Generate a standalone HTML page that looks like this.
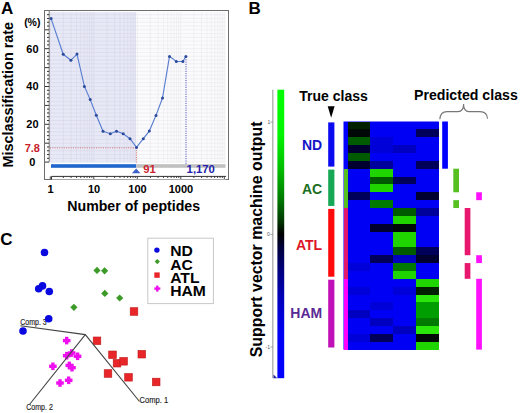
<!DOCTYPE html>
<html><head><meta charset="utf-8"><style>
html,body{margin:0;padding:0;background:#fff;}
svg{display:block;}
</style></head><body>
<svg width="520" height="413" viewBox="0 0 520 413">
<rect width="520" height="413" fill="#fff"/>
<text x="1" y="14" font-family="Liberation Sans, sans-serif" font-size="17" font-weight="bold">A</text>
<text transform="translate(12.6,94.7) rotate(-90)" text-anchor="middle" font-family="Liberation Sans, sans-serif" font-size="14.4" font-weight="bold">Misclassification rate</text>
<rect x="44.5" y="10.5" width="184" height="169" fill="#fff" stroke="#6e6e6e" stroke-width="1"/>
<rect x="50" y="12" width="86.19999999999999" height="149.8" fill="#e8e9f6"/>
<rect x="136.2" y="12" width="89.30000000000001" height="149.8" fill="#fbfbfd"/>
<path d="M50,162.10H136.2M50,158.32H136.2M50,154.54H136.2M50,150.76H136.2M50,146.98H136.2M50,143.20H136.2M50,139.42H136.2M50,135.64H136.2M50,131.86H136.2M50,128.08H136.2M50,124.30H136.2M50,120.52H136.2M50,116.74H136.2M50,112.96H136.2M50,109.18H136.2M50,105.40H136.2M50,101.62H136.2M50,97.84H136.2M50,94.06H136.2M50,90.28H136.2M50,86.50H136.2M50,82.72H136.2M50,78.94H136.2M50,75.16H136.2M50,71.38H136.2M50,67.60H136.2M50,63.82H136.2M50,60.04H136.2M50,56.26H136.2M50,52.48H136.2M50,48.70H136.2M50,44.92H136.2M50,41.14H136.2M50,37.36H136.2M50,33.58H136.2M50,29.80H136.2M50,26.02H136.2M50,22.24H136.2M50,18.46H136.2M50,14.68H136.2M50.30,12V161.8M63.39,12V161.8M71.05,12V161.8M76.49,12V161.8M80.71,12V161.8M84.15,12V161.8M87.06,12V161.8M89.58,12V161.8M91.81,12V161.8M93.80,12V161.8M106.89,12V161.8M114.55,12V161.8M119.99,12V161.8M124.21,12V161.8M127.65,12V161.8M130.56,12V161.8M133.08,12V161.8M135.31,12V161.8" stroke="#d8d9ea" stroke-width="0.7" fill="none"/>
<path d="M136.2,162.10H225.5M136.2,158.32H225.5M136.2,154.54H225.5M136.2,150.76H225.5M136.2,146.98H225.5M136.2,143.20H225.5M136.2,139.42H225.5M136.2,135.64H225.5M136.2,131.86H225.5M136.2,128.08H225.5M136.2,124.30H225.5M136.2,120.52H225.5M136.2,116.74H225.5M136.2,112.96H225.5M136.2,109.18H225.5M136.2,105.40H225.5M136.2,101.62H225.5M136.2,97.84H225.5M136.2,94.06H225.5M136.2,90.28H225.5M136.2,86.50H225.5M136.2,82.72H225.5M136.2,78.94H225.5M136.2,75.16H225.5M136.2,71.38H225.5M136.2,67.60H225.5M136.2,63.82H225.5M136.2,60.04H225.5M136.2,56.26H225.5M136.2,52.48H225.5M136.2,48.70H225.5M136.2,44.92H225.5M136.2,41.14H225.5M136.2,37.36H225.5M136.2,33.58H225.5M136.2,29.80H225.5M136.2,26.02H225.5M136.2,22.24H225.5M136.2,18.46H225.5M136.2,14.68H225.5M137.30,12V161.8M150.39,12V161.8M158.05,12V161.8M163.49,12V161.8M167.71,12V161.8M171.15,12V161.8M174.06,12V161.8M176.58,12V161.8M178.81,12V161.8M180.80,12V161.8M193.89,12V161.8M201.55,12V161.8M206.99,12V161.8M211.21,12V161.8M214.65,12V161.8M217.56,12V161.8M220.08,12V161.8M222.31,12V161.8M224.30,12V161.8" stroke="#ebebef" stroke-width="0.7" fill="none"/>
<rect x="45" y="11" width="4.2" height="150.8" fill="#fff"/>
<path d="M49.2,11V161.8" stroke="#555" stroke-width="0.8"/>
<path d="M45,162.10H49.2M47,158.32H49.2M47,154.54H49.2M47,150.76H49.2M47,146.98H49.2M45,143.20H49.2M47,139.42H49.2M47,135.64H49.2M47,131.86H49.2M47,128.08H49.2M45,124.30H49.2M47,120.52H49.2M47,116.74H49.2M47,112.96H49.2M47,109.18H49.2M45,105.40H49.2M47,101.62H49.2M47,97.84H49.2M47,94.06H49.2M47,90.28H49.2M45,86.50H49.2M47,82.72H49.2M47,78.94H49.2M47,75.16H49.2M47,71.38H49.2M45,67.60H49.2M47,63.82H49.2M47,60.04H49.2M47,56.26H49.2M47,52.48H49.2M45,48.70H49.2M47,44.92H49.2M47,41.14H49.2M47,37.36H49.2M47,33.58H49.2M45,29.80H49.2M47,26.02H49.2M47,22.24H49.2M47,18.46H49.2M47,14.68H49.2" stroke="#333" stroke-width="1"/>
<text x="32.4" y="52.6" text-anchor="middle" font-family="Liberation Sans, sans-serif" font-size="11" font-weight="bold">60</text>
<text x="32.4" y="90.4" text-anchor="middle" font-family="Liberation Sans, sans-serif" font-size="11" font-weight="bold">40</text>
<text x="32.4" y="128.2" text-anchor="middle" font-family="Liberation Sans, sans-serif" font-size="11" font-weight="bold">20</text>
<text x="32.4" y="166.0" text-anchor="middle" font-family="Liberation Sans, sans-serif" font-size="11" font-weight="bold">0</text>
<text x="32.3" y="26" text-anchor="middle" font-family="Liberation Sans, sans-serif" font-size="10.5" font-weight="bold">(%)</text>
<text x="32.3" y="152.4" text-anchor="middle" font-family="Liberation Sans, sans-serif" font-size="11" font-weight="bold" fill="#c8202a">7.8</text>
<path d="M50,147.8H136.4M136.4,147.8V164" stroke="#d05050" stroke-width="0.8" stroke-dasharray="1,1.3" fill="none"/>
<path d="M186,57V164" stroke="#3030b0" stroke-width="0.9" stroke-dasharray="1,1.3" fill="none"/>
<polyline points="51.1,18.6 63.2,54.3 70.9,60.3 77,54.1 84.4,86.4 90.2,99.6 96.3,115.3 103,131.2 110.3,133.7 116.5,131.2 123.2,133.7 130,138.7 136.5,147.4 143.3,138.7 149.3,131.1 156,115.4 162.5,98 169.5,56.4 176.3,61.5 182.9,61.5 185.9,56.4" fill="none" stroke="#5a7fd2" stroke-width="1.15"/>
<circle cx="51.1" cy="18.6" r="1.5" fill="#2a4a9c"/>
<circle cx="63.2" cy="54.3" r="1.5" fill="#2a4a9c"/>
<circle cx="70.9" cy="60.3" r="1.5" fill="#2a4a9c"/>
<circle cx="77" cy="54.1" r="1.5" fill="#2a4a9c"/>
<circle cx="84.4" cy="86.4" r="1.5" fill="#2a4a9c"/>
<circle cx="90.2" cy="99.6" r="1.5" fill="#2a4a9c"/>
<circle cx="96.3" cy="115.3" r="1.5" fill="#2a4a9c"/>
<circle cx="103" cy="131.2" r="1.5" fill="#2a4a9c"/>
<circle cx="110.3" cy="133.7" r="1.5" fill="#2a4a9c"/>
<circle cx="116.5" cy="131.2" r="1.5" fill="#2a4a9c"/>
<circle cx="123.2" cy="133.7" r="1.5" fill="#2a4a9c"/>
<circle cx="130" cy="138.7" r="1.5" fill="#2a4a9c"/>
<circle cx="136.5" cy="147.4" r="1.5" fill="#2a4a9c"/>
<circle cx="143.3" cy="138.7" r="1.5" fill="#2a4a9c"/>
<circle cx="149.3" cy="131.1" r="1.5" fill="#2a4a9c"/>
<circle cx="156" cy="115.4" r="1.5" fill="#2a4a9c"/>
<circle cx="162.5" cy="98" r="1.5" fill="#2a4a9c"/>
<circle cx="169.5" cy="56.4" r="1.5" fill="#2a4a9c"/>
<circle cx="176.3" cy="61.5" r="1.5" fill="#2a4a9c"/>
<circle cx="182.9" cy="61.5" r="1.5" fill="#2a4a9c"/>
<circle cx="185.9" cy="56.4" r="1.5" fill="#2a4a9c"/>
<rect x="51" y="164.2" width="85.2" height="3.6" fill="#2166cc"/>
<rect x="136.2" y="164.2" width="89.3" height="3.6" fill="#c0c0c0"/>
<polygon points="131.9,173.3 140.4,173.3 136.2,168.6" fill="#3a5fc8"/>
<text x="143.3" y="172.7" font-family="Liberation Sans, sans-serif" font-size="11.3" font-weight="bold" fill="#cc1f2e">91</text>
<text x="186.6" y="172.7" font-family="Liberation Sans, sans-serif" font-size="11.3" font-weight="bold" fill="#2222aa">1,170</text>
<rect x="51.5" y="176.4" width="174.5" height="3" fill="#fff"/>
<path d="M51.5,179.5V176.4H226" fill="none" stroke="#333" stroke-width="1"/>
<path d="M50.30,176.4V179M63.39,176.4V178M71.05,176.4V178M76.49,176.4V178M80.71,176.4V178M84.15,176.4V178M87.06,176.4V178M89.58,176.4V178M91.81,176.4V178M93.80,176.4V179M106.89,176.4V178M114.55,176.4V178M119.99,176.4V178M124.21,176.4V178M127.65,176.4V178M130.56,176.4V178M133.08,176.4V178M135.31,176.4V178M137.30,176.4V179M150.39,176.4V178M158.05,176.4V178M163.49,176.4V178M167.71,176.4V178M171.15,176.4V178M174.06,176.4V178M176.58,176.4V178M178.81,176.4V178M180.80,176.4V179M193.89,176.4V178M201.55,176.4V178M206.99,176.4V178M211.21,176.4V178M214.65,176.4V178M217.56,176.4V178M220.08,176.4V178M222.31,176.4V178M224.30,176.4V179" stroke="#333" stroke-width="0.9"/>
<text x="50.5" y="193" text-anchor="middle" font-family="Liberation Sans, sans-serif" font-size="11" font-weight="bold">1</text>
<text x="94.0" y="193" text-anchor="middle" font-family="Liberation Sans, sans-serif" font-size="11" font-weight="bold">10</text>
<text x="137.5" y="193" text-anchor="middle" font-family="Liberation Sans, sans-serif" font-size="11" font-weight="bold">100</text>
<text x="181.0" y="193" text-anchor="middle" font-family="Liberation Sans, sans-serif" font-size="11" font-weight="bold">1000</text>
<text x="67.3" y="211" font-family="Liberation Sans, sans-serif" font-size="14.15" font-weight="bold">Number of peptides</text>
<text x="0.3" y="244.5" font-family="Liberation Sans, sans-serif" font-size="17" font-weight="bold">C</text>
<text x="20.2" y="325" font-family="Liberation Sans, sans-serif" font-size="8.2" fill="#222" stroke="#222" stroke-width="0.15" textLength="26.5" lengthAdjust="spacingAndGlyphs">Comp. 3</text>
<text x="139.6" y="403.3" font-family="Liberation Sans, sans-serif" font-size="8.2" fill="#222" stroke="#222" stroke-width="0.15" textLength="28.5" lengthAdjust="spacingAndGlyphs">Comp. 1</text>
<text x="26.3" y="410.3" font-family="Liberation Sans, sans-serif" font-size="8.2" fill="#222" stroke="#222" stroke-width="0.15" textLength="26.5" lengthAdjust="spacingAndGlyphs">Comp. 2</text>
<circle cx="44.5" cy="252.5" r="3.8" fill="#0a0ae0"/>
<circle cx="38.7" cy="288.8" r="3.8" fill="#0a0ae0"/>
<circle cx="42.5" cy="285.9" r="3.8" fill="#0a0ae0"/>
<circle cx="49.3" cy="291.5" r="3.8" fill="#0a0ae0"/>
<circle cx="48.7" cy="318.7" r="3.8" fill="#0a0ae0"/>
<circle cx="23" cy="331" r="3.8" fill="#0a0ae0"/>
<polygon points="97,266.79999999999995 100.6,270.4 97,274.0 93.4,270.4" fill="#3c9a28"/>
<polygon points="104.6,267.2 108.19999999999999,270.8 104.6,274.40000000000003 101.0,270.8" fill="#3c9a28"/>
<polygon points="104.8,289.79999999999995 108.39999999999999,293.4 104.8,297.0 101.2,293.4" fill="#3c9a28"/>
<polygon points="119.7,294.4 123.3,298 119.7,301.6 116.10000000000001,298" fill="#3c9a28"/>
<polygon points="73.9,303.7 77.5,307.3 73.9,310.90000000000003 70.30000000000001,307.3" fill="#3c9a28"/>
<rect x="130.20" y="307.70" width="7.6" height="7.6" fill="#e8262a" stroke="#c01818" stroke-width="0.6"/>
<rect x="93.20" y="337.00" width="7.6" height="7.6" fill="#e8262a" stroke="#c01818" stroke-width="0.6"/>
<rect x="108.70" y="351.00" width="7.6" height="7.6" fill="#e8262a" stroke="#c01818" stroke-width="0.6"/>
<rect x="113.20" y="359.40" width="7.6" height="7.6" fill="#e8262a" stroke="#c01818" stroke-width="0.6"/>
<rect x="119.80" y="357.50" width="7.6" height="7.6" fill="#e8262a" stroke="#c01818" stroke-width="0.6"/>
<rect x="104.20" y="369.70" width="7.6" height="7.6" fill="#e8262a" stroke="#c01818" stroke-width="0.6"/>
<rect x="124.70" y="373.50" width="7.6" height="7.6" fill="#e8262a" stroke="#c01818" stroke-width="0.6"/>
<rect x="138.00" y="350.40" width="7.6" height="7.6" fill="#e8262a" stroke="#c01818" stroke-width="0.6"/>
<rect x="152.40" y="378.20" width="7.6" height="7.6" fill="#e8262a" stroke="#c01818" stroke-width="0.6"/>
<rect x="65.00" y="336.80" width="3.4" height="7.6" fill="#ee10ee"/><rect x="62.90" y="338.90" width="7.6" height="3.4" fill="#ee10ee"/>
<rect x="65.00" y="351.90" width="3.4" height="7.6" fill="#ee10ee"/><rect x="62.90" y="354.00" width="7.6" height="3.4" fill="#ee10ee"/>
<rect x="70.00" y="349.20" width="3.4" height="7.6" fill="#ee10ee"/><rect x="67.90" y="351.30" width="7.6" height="3.4" fill="#ee10ee"/>
<rect x="75.90" y="352.50" width="3.4" height="7.6" fill="#ee10ee"/><rect x="73.80" y="354.60" width="7.6" height="3.4" fill="#ee10ee"/>
<rect x="51.20" y="362.50" width="3.4" height="7.6" fill="#ee10ee"/><rect x="49.10" y="364.60" width="7.6" height="3.4" fill="#ee10ee"/>
<rect x="67.60" y="361.60" width="3.4" height="7.6" fill="#ee10ee"/><rect x="65.50" y="363.70" width="7.6" height="3.4" fill="#ee10ee"/>
<rect x="70.30" y="363.90" width="3.4" height="7.6" fill="#ee10ee"/><rect x="68.20" y="366.00" width="7.6" height="3.4" fill="#ee10ee"/>
<rect x="67.00" y="376.50" width="3.4" height="7.6" fill="#ee10ee"/><rect x="64.90" y="378.60" width="7.6" height="3.4" fill="#ee10ee"/>
<rect x="58.30" y="379.20" width="3.4" height="7.6" fill="#ee10ee"/><rect x="56.20" y="381.30" width="7.6" height="3.4" fill="#ee10ee"/>
<path d="M20.4,325.8L85.3,334.6L139.5,401.5M85.3,334.6L29.5,404.5" fill="none" stroke="#444" stroke-width="1.1"/>
<rect x="147.8" y="238.2" width="65.6" height="65.4" fill="#fff" stroke="#c8c8c8" stroke-width="1"/>
<circle cx="156.9" cy="250.1" r="2.7" fill="#0a0ae0"/>
<polygon points="157.3,259 159.9,261.6 157.3,264.2 154.7,261.6" fill="#3c9a28"/>
<rect x="154.3" y="272.4" width="5.4" height="5.4" fill="#e8262a"/>
<rect x="156.10" y="285.60" width="2.4" height="6" fill="#ee10ee"/><rect x="154.30" y="287.40" width="6" height="2.4" fill="#ee10ee"/>
<text transform="translate(170.2,256.2) scale(1.08,1)" font-family="Liberation Sans, sans-serif" font-size="14.5" font-weight="bold">ND</text>
<text transform="translate(170.2,269.5) scale(1.08,1)" font-family="Liberation Sans, sans-serif" font-size="14.5" font-weight="bold">AC</text>
<text transform="translate(170.2,282.8) scale(1.08,1)" font-family="Liberation Sans, sans-serif" font-size="14.5" font-weight="bold">ATL</text>
<text transform="translate(170.2,296.1) scale(1.08,1)" font-family="Liberation Sans, sans-serif" font-size="14.5" font-weight="bold">HAM</text>
<text x="248.6" y="14" font-family="Liberation Sans, sans-serif" font-size="17" font-weight="bold">B</text>
<text transform="translate(262,239.4) rotate(-90)" text-anchor="middle" font-family="Liberation Sans, sans-serif" font-size="15.9" font-weight="bold">Support vector machine output</text>
<defs><linearGradient id="cb" x1="0" y1="0" x2="0" y2="1"><stop offset="0" stop-color="#00ff00"/><stop offset="0.154" stop-color="#00f500"/><stop offset="0.271" stop-color="#00bf00"/><stop offset="0.375" stop-color="#007d00"/><stop offset="0.451" stop-color="#003c00"/><stop offset="0.5" stop-color="#000"/><stop offset="0.548" stop-color="#00003c"/><stop offset="0.625" stop-color="#00007d"/><stop offset="0.729" stop-color="#0000bf"/><stop offset="0.847" stop-color="#0000f5"/><stop offset="1" stop-color="#0000ff"/></linearGradient></defs>
<rect x="277.4" y="89.7" width="6.8" height="288.5" fill="url(#cb)"/>
<path d="M272.8,89.7V378.2" stroke="#aaa" stroke-width="1.3"/>
<polygon points="273.5,374.5 277.3,378.2 273.5,378.2" fill="#2020a0"/>
<path d="M270.5,122H272.8M270.5,234.4H272.8M270.5,347H272.8" stroke="#888" stroke-width="0.8"/>
<text x="269" y="123.8" text-anchor="middle" font-family="Liberation Sans, sans-serif" font-size="5" fill="#555">1</text>
<text x="268.5" y="236.2" text-anchor="middle" font-family="Liberation Sans, sans-serif" font-size="5" fill="#555">0</text>
<text x="267.8" y="348.8" text-anchor="middle" font-family="Liberation Sans, sans-serif" font-size="5" fill="#555">-1</text>
<text x="299.3" y="100.8" font-family="Liberation Sans, sans-serif" font-size="14" font-weight="bold">True class</text>
<text x="414" y="99.6" font-family="Liberation Sans, sans-serif" font-size="14.15" font-weight="bold">Predicted class</text>
<polygon points="327.7,106.2 334.6,106.2 331.15,117.7" fill="#000"/>
<path d="M439.8,119.3Q440.3,111.6 447,111.6L458,111.6Q463.6,111.6 463.6,104Q463.6,111.6 469,111.6L480,111.6Q487.3,111.6 487.5,118.8" fill="none" stroke="#777" stroke-width="1.1"/>
<rect x="343.5" y="121.5" width="95.19999999999999" height="228.10" fill="#0000f4"/>
<rect x="343.5" y="121.50" width="4.00" height="7.92" fill="#0000ff" shape-rendering="crispEdges"/>
<rect x="347.5" y="121.50" width="22.85" height="7.92" fill="#002000" shape-rendering="crispEdges"/>
<rect x="370.3" y="121.50" width="22.85" height="7.92" fill="#0000f4" shape-rendering="crispEdges"/>
<rect x="393.1" y="121.50" width="22.85" height="7.92" fill="#0000f4" shape-rendering="crispEdges"/>
<rect x="415.9" y="121.50" width="22.85" height="7.92" fill="#0000f4" shape-rendering="crispEdges"/>
<rect x="343.5" y="129.37" width="4.00" height="7.92" fill="#0000ff" shape-rendering="crispEdges"/>
<rect x="347.5" y="129.37" width="22.85" height="7.92" fill="#000808" shape-rendering="crispEdges"/>
<rect x="370.3" y="129.37" width="22.85" height="7.92" fill="#0000f4" shape-rendering="crispEdges"/>
<rect x="393.1" y="129.37" width="22.85" height="7.92" fill="#0000f4" shape-rendering="crispEdges"/>
<rect x="415.9" y="129.37" width="22.85" height="7.92" fill="#00005a" shape-rendering="crispEdges"/>
<rect x="343.5" y="137.23" width="4.00" height="7.92" fill="#0000ff" shape-rendering="crispEdges"/>
<rect x="347.5" y="137.23" width="22.85" height="7.92" fill="#005a00" shape-rendering="crispEdges"/>
<rect x="370.3" y="137.23" width="22.85" height="7.92" fill="#0000d8" shape-rendering="crispEdges"/>
<rect x="393.1" y="137.23" width="22.85" height="7.92" fill="#0000f4" shape-rendering="crispEdges"/>
<rect x="415.9" y="137.23" width="22.85" height="7.92" fill="#0000f4" shape-rendering="crispEdges"/>
<rect x="343.5" y="145.10" width="4.00" height="7.92" fill="#0000ff" shape-rendering="crispEdges"/>
<rect x="347.5" y="145.10" width="22.85" height="7.92" fill="#000030" shape-rendering="crispEdges"/>
<rect x="370.3" y="145.10" width="22.85" height="7.92" fill="#0000d8" shape-rendering="crispEdges"/>
<rect x="393.1" y="145.10" width="22.85" height="7.92" fill="#0000c0" shape-rendering="crispEdges"/>
<rect x="415.9" y="145.10" width="22.85" height="7.92" fill="#0000f4" shape-rendering="crispEdges"/>
<rect x="343.5" y="152.96" width="4.00" height="7.92" fill="#0000ff" shape-rendering="crispEdges"/>
<rect x="347.5" y="152.96" width="22.85" height="7.92" fill="#005a00" shape-rendering="crispEdges"/>
<rect x="370.3" y="152.96" width="22.85" height="7.92" fill="#0000f4" shape-rendering="crispEdges"/>
<rect x="393.1" y="152.96" width="22.85" height="7.92" fill="#0000f4" shape-rendering="crispEdges"/>
<rect x="415.9" y="152.96" width="22.85" height="7.92" fill="#0000f4" shape-rendering="crispEdges"/>
<rect x="343.5" y="160.83" width="4.00" height="7.92" fill="#0000ff" shape-rendering="crispEdges"/>
<rect x="347.5" y="160.83" width="22.85" height="7.92" fill="#000030" shape-rendering="crispEdges"/>
<rect x="370.3" y="160.83" width="22.85" height="7.92" fill="#00009a" shape-rendering="crispEdges"/>
<rect x="393.1" y="160.83" width="22.85" height="7.92" fill="#0000f4" shape-rendering="crispEdges"/>
<rect x="415.9" y="160.83" width="22.85" height="7.92" fill="#00005a" shape-rendering="crispEdges"/>
<rect x="343.5" y="168.69" width="4.00" height="7.92" fill="#55c020" shape-rendering="crispEdges"/>
<rect x="347.5" y="168.69" width="22.85" height="7.92" fill="#0000f4" shape-rendering="crispEdges"/>
<rect x="370.3" y="168.69" width="22.85" height="7.92" fill="#20d400" shape-rendering="crispEdges"/>
<rect x="393.1" y="168.69" width="22.85" height="7.92" fill="#0000f4" shape-rendering="crispEdges"/>
<rect x="415.9" y="168.69" width="22.85" height="7.92" fill="#0000f4" shape-rendering="crispEdges"/>
<rect x="343.5" y="176.56" width="4.00" height="7.92" fill="#55c020" shape-rendering="crispEdges"/>
<rect x="347.5" y="176.56" width="22.85" height="7.92" fill="#0000f4" shape-rendering="crispEdges"/>
<rect x="370.3" y="176.56" width="22.85" height="7.92" fill="#005a00" shape-rendering="crispEdges"/>
<rect x="393.1" y="176.56" width="22.85" height="7.92" fill="#00005a" shape-rendering="crispEdges"/>
<rect x="415.9" y="176.56" width="22.85" height="7.92" fill="#0000f4" shape-rendering="crispEdges"/>
<rect x="343.5" y="184.42" width="4.00" height="7.92" fill="#55c020" shape-rendering="crispEdges"/>
<rect x="347.5" y="184.42" width="22.85" height="7.92" fill="#0000f4" shape-rendering="crispEdges"/>
<rect x="370.3" y="184.42" width="22.85" height="7.92" fill="#20d400" shape-rendering="crispEdges"/>
<rect x="393.1" y="184.42" width="22.85" height="7.92" fill="#0000f4" shape-rendering="crispEdges"/>
<rect x="415.9" y="184.42" width="22.85" height="7.92" fill="#0000f4" shape-rendering="crispEdges"/>
<rect x="343.5" y="192.29" width="4.00" height="7.92" fill="#55c020" shape-rendering="crispEdges"/>
<rect x="347.5" y="192.29" width="22.85" height="7.92" fill="#00005a" shape-rendering="crispEdges"/>
<rect x="370.3" y="192.29" width="22.85" height="7.92" fill="#0000f4" shape-rendering="crispEdges"/>
<rect x="393.1" y="192.29" width="22.85" height="7.92" fill="#0000f4" shape-rendering="crispEdges"/>
<rect x="415.9" y="192.29" width="22.85" height="7.92" fill="#000030" shape-rendering="crispEdges"/>
<rect x="343.5" y="200.16" width="4.00" height="7.92" fill="#55c020" shape-rendering="crispEdges"/>
<rect x="347.5" y="200.16" width="22.85" height="7.92" fill="#0000f4" shape-rendering="crispEdges"/>
<rect x="370.3" y="200.16" width="22.85" height="7.92" fill="#007a00" shape-rendering="crispEdges"/>
<rect x="393.1" y="200.16" width="22.85" height="7.92" fill="#0000f4" shape-rendering="crispEdges"/>
<rect x="415.9" y="200.16" width="22.85" height="7.92" fill="#0000f4" shape-rendering="crispEdges"/>
<rect x="343.5" y="208.02" width="4.00" height="7.92" fill="#e0186e" shape-rendering="crispEdges"/>
<rect x="347.5" y="208.02" width="22.85" height="7.92" fill="#0000f4" shape-rendering="crispEdges"/>
<rect x="370.3" y="208.02" width="22.85" height="7.92" fill="#0000f4" shape-rendering="crispEdges"/>
<rect x="393.1" y="208.02" width="22.85" height="7.92" fill="#005a00" shape-rendering="crispEdges"/>
<rect x="415.9" y="208.02" width="22.85" height="7.92" fill="#00009a" shape-rendering="crispEdges"/>
<rect x="343.5" y="215.89" width="4.00" height="7.92" fill="#e0186e" shape-rendering="crispEdges"/>
<rect x="347.5" y="215.89" width="22.85" height="7.92" fill="#0000f4" shape-rendering="crispEdges"/>
<rect x="370.3" y="215.89" width="22.85" height="7.92" fill="#0000f4" shape-rendering="crispEdges"/>
<rect x="393.1" y="215.89" width="22.85" height="7.92" fill="#20d400" shape-rendering="crispEdges"/>
<rect x="415.9" y="215.89" width="22.85" height="7.92" fill="#0000f4" shape-rendering="crispEdges"/>
<rect x="343.5" y="223.75" width="4.00" height="7.92" fill="#e0186e" shape-rendering="crispEdges"/>
<rect x="347.5" y="223.75" width="22.85" height="7.92" fill="#0000f4" shape-rendering="crispEdges"/>
<rect x="370.3" y="223.75" width="22.85" height="7.92" fill="#000030" shape-rendering="crispEdges"/>
<rect x="393.1" y="223.75" width="22.85" height="7.92" fill="#000808" shape-rendering="crispEdges"/>
<rect x="415.9" y="223.75" width="22.85" height="7.92" fill="#0000f4" shape-rendering="crispEdges"/>
<rect x="343.5" y="231.62" width="4.00" height="7.92" fill="#e0186e" shape-rendering="crispEdges"/>
<rect x="347.5" y="231.62" width="22.85" height="7.92" fill="#0000f4" shape-rendering="crispEdges"/>
<rect x="370.3" y="231.62" width="22.85" height="7.92" fill="#0000f4" shape-rendering="crispEdges"/>
<rect x="393.1" y="231.62" width="22.85" height="7.92" fill="#20d400" shape-rendering="crispEdges"/>
<rect x="415.9" y="231.62" width="22.85" height="7.92" fill="#0000f4" shape-rendering="crispEdges"/>
<rect x="343.5" y="239.48" width="4.00" height="7.92" fill="#e0186e" shape-rendering="crispEdges"/>
<rect x="347.5" y="239.48" width="22.85" height="7.92" fill="#0000f4" shape-rendering="crispEdges"/>
<rect x="370.3" y="239.48" width="22.85" height="7.92" fill="#0000f4" shape-rendering="crispEdges"/>
<rect x="393.1" y="239.48" width="22.85" height="7.92" fill="#20d400" shape-rendering="crispEdges"/>
<rect x="415.9" y="239.48" width="22.85" height="7.92" fill="#0000f4" shape-rendering="crispEdges"/>
<rect x="343.5" y="247.35" width="4.00" height="7.92" fill="#e0186e" shape-rendering="crispEdges"/>
<rect x="347.5" y="247.35" width="22.85" height="7.92" fill="#0000f4" shape-rendering="crispEdges"/>
<rect x="370.3" y="247.35" width="22.85" height="7.92" fill="#0000f4" shape-rendering="crispEdges"/>
<rect x="393.1" y="247.35" width="22.85" height="7.92" fill="#005a00" shape-rendering="crispEdges"/>
<rect x="415.9" y="247.35" width="22.85" height="7.92" fill="#00005a" shape-rendering="crispEdges"/>
<rect x="343.5" y="255.21" width="4.00" height="7.92" fill="#e0186e" shape-rendering="crispEdges"/>
<rect x="347.5" y="255.21" width="22.85" height="7.92" fill="#0000f4" shape-rendering="crispEdges"/>
<rect x="370.3" y="255.21" width="22.85" height="7.92" fill="#00005a" shape-rendering="crispEdges"/>
<rect x="393.1" y="255.21" width="22.85" height="7.92" fill="#0000c0" shape-rendering="crispEdges"/>
<rect x="415.9" y="255.21" width="22.85" height="7.92" fill="#000030" shape-rendering="crispEdges"/>
<rect x="343.5" y="263.08" width="4.00" height="7.92" fill="#e0186e" shape-rendering="crispEdges"/>
<rect x="347.5" y="263.08" width="22.85" height="7.92" fill="#0000d8" shape-rendering="crispEdges"/>
<rect x="370.3" y="263.08" width="22.85" height="7.92" fill="#0000f4" shape-rendering="crispEdges"/>
<rect x="393.1" y="263.08" width="22.85" height="7.92" fill="#007a00" shape-rendering="crispEdges"/>
<rect x="415.9" y="263.08" width="22.85" height="7.92" fill="#0000f4" shape-rendering="crispEdges"/>
<rect x="343.5" y="270.94" width="4.00" height="7.92" fill="#e0186e" shape-rendering="crispEdges"/>
<rect x="347.5" y="270.94" width="22.85" height="7.92" fill="#0000f4" shape-rendering="crispEdges"/>
<rect x="370.3" y="270.94" width="22.85" height="7.92" fill="#0000f4" shape-rendering="crispEdges"/>
<rect x="393.1" y="270.94" width="22.85" height="7.92" fill="#20d400" shape-rendering="crispEdges"/>
<rect x="415.9" y="270.94" width="22.85" height="7.92" fill="#0000f4" shape-rendering="crispEdges"/>
<rect x="343.5" y="278.81" width="4.00" height="7.92" fill="#ff00ff" shape-rendering="crispEdges"/>
<rect x="347.5" y="278.81" width="22.85" height="7.92" fill="#0000f4" shape-rendering="crispEdges"/>
<rect x="370.3" y="278.81" width="22.85" height="7.92" fill="#0000f4" shape-rendering="crispEdges"/>
<rect x="393.1" y="278.81" width="22.85" height="7.92" fill="#0000f4" shape-rendering="crispEdges"/>
<rect x="415.9" y="278.81" width="22.85" height="7.92" fill="#20d400" shape-rendering="crispEdges"/>
<rect x="343.5" y="286.68" width="4.00" height="7.92" fill="#ff00ff" shape-rendering="crispEdges"/>
<rect x="347.5" y="286.68" width="22.85" height="7.92" fill="#0000d8" shape-rendering="crispEdges"/>
<rect x="370.3" y="286.68" width="22.85" height="7.92" fill="#0000f4" shape-rendering="crispEdges"/>
<rect x="393.1" y="286.68" width="22.85" height="7.92" fill="#0000d8" shape-rendering="crispEdges"/>
<rect x="415.9" y="286.68" width="22.85" height="7.92" fill="#002000" shape-rendering="crispEdges"/>
<rect x="343.5" y="294.54" width="4.00" height="7.92" fill="#ff00ff" shape-rendering="crispEdges"/>
<rect x="347.5" y="294.54" width="22.85" height="7.92" fill="#0000f4" shape-rendering="crispEdges"/>
<rect x="370.3" y="294.54" width="22.85" height="7.92" fill="#0000f4" shape-rendering="crispEdges"/>
<rect x="393.1" y="294.54" width="22.85" height="7.92" fill="#0000f4" shape-rendering="crispEdges"/>
<rect x="415.9" y="294.54" width="22.85" height="7.92" fill="#2be60a" shape-rendering="crispEdges"/>
<rect x="343.5" y="302.41" width="4.00" height="7.92" fill="#ff00ff" shape-rendering="crispEdges"/>
<rect x="347.5" y="302.41" width="22.85" height="7.92" fill="#0000f4" shape-rendering="crispEdges"/>
<rect x="370.3" y="302.41" width="22.85" height="7.92" fill="#0000d8" shape-rendering="crispEdges"/>
<rect x="393.1" y="302.41" width="22.85" height="7.92" fill="#0000f4" shape-rendering="crispEdges"/>
<rect x="415.9" y="302.41" width="22.85" height="7.92" fill="#009e00" shape-rendering="crispEdges"/>
<rect x="343.5" y="310.27" width="4.00" height="7.92" fill="#ff00ff" shape-rendering="crispEdges"/>
<rect x="347.5" y="310.27" width="22.85" height="7.92" fill="#0000c0" shape-rendering="crispEdges"/>
<rect x="370.3" y="310.27" width="22.85" height="7.92" fill="#0000f4" shape-rendering="crispEdges"/>
<rect x="393.1" y="310.27" width="22.85" height="7.92" fill="#0000f4" shape-rendering="crispEdges"/>
<rect x="415.9" y="310.27" width="22.85" height="7.92" fill="#009e00" shape-rendering="crispEdges"/>
<rect x="343.5" y="318.14" width="4.00" height="7.92" fill="#ff00ff" shape-rendering="crispEdges"/>
<rect x="347.5" y="318.14" width="22.85" height="7.92" fill="#0000f4" shape-rendering="crispEdges"/>
<rect x="370.3" y="318.14" width="22.85" height="7.92" fill="#0000c0" shape-rendering="crispEdges"/>
<rect x="393.1" y="318.14" width="22.85" height="7.92" fill="#0000f4" shape-rendering="crispEdges"/>
<rect x="415.9" y="318.14" width="22.85" height="7.92" fill="#007a00" shape-rendering="crispEdges"/>
<rect x="343.5" y="326.00" width="4.00" height="7.92" fill="#ff00ff" shape-rendering="crispEdges"/>
<rect x="347.5" y="326.00" width="22.85" height="7.92" fill="#0000f4" shape-rendering="crispEdges"/>
<rect x="370.3" y="326.00" width="22.85" height="7.92" fill="#0000f4" shape-rendering="crispEdges"/>
<rect x="393.1" y="326.00" width="22.85" height="7.92" fill="#0000c0" shape-rendering="crispEdges"/>
<rect x="415.9" y="326.00" width="22.85" height="7.92" fill="#2be60a" shape-rendering="crispEdges"/>
<rect x="343.5" y="333.87" width="4.00" height="7.92" fill="#ff00ff" shape-rendering="crispEdges"/>
<rect x="347.5" y="333.87" width="22.85" height="7.92" fill="#0000d8" shape-rendering="crispEdges"/>
<rect x="370.3" y="333.87" width="22.85" height="7.92" fill="#00005a" shape-rendering="crispEdges"/>
<rect x="393.1" y="333.87" width="22.85" height="7.92" fill="#0000f4" shape-rendering="crispEdges"/>
<rect x="415.9" y="333.87" width="22.85" height="7.92" fill="#000808" shape-rendering="crispEdges"/>
<rect x="343.5" y="341.73" width="4.00" height="7.92" fill="#ff00ff" shape-rendering="crispEdges"/>
<rect x="347.5" y="341.73" width="22.85" height="7.92" fill="#0000f4" shape-rendering="crispEdges"/>
<rect x="370.3" y="341.73" width="22.85" height="7.92" fill="#0000f4" shape-rendering="crispEdges"/>
<rect x="393.1" y="341.73" width="22.85" height="7.92" fill="#0000f4" shape-rendering="crispEdges"/>
<rect x="415.9" y="341.73" width="22.85" height="7.92" fill="#20d400" shape-rendering="crispEdges"/>
<rect x="328.2" y="122.40" width="6.2" height="44.19" fill="#0a0af0"/>
<rect x="328.2" y="169.59" width="6.2" height="36.33" fill="#17a856"/>
<rect x="328.2" y="208.92" width="6.2" height="67.79" fill="#ff0a0a"/>
<rect x="328.2" y="279.71" width="6.2" height="67.79" fill="#c010b8"/>
<rect x="442.2" y="121.50" width="5.7" height="47.19" fill="#0000ff"/>
<rect x="453.3" y="168.69" width="5.7" height="23.60" fill="#55c020"/>
<rect x="476.2" y="192.29" width="5.7" height="7.87" fill="#ff10ff"/>
<rect x="453.3" y="200.16" width="5.7" height="7.87" fill="#55c020"/>
<rect x="464.7" y="208.02" width="5.7" height="47.19" fill="#e8186e"/>
<rect x="476.2" y="255.21" width="5.7" height="7.87" fill="#ff10ff"/>
<rect x="464.7" y="263.08" width="5.7" height="15.73" fill="#e8186e"/>
<rect x="476.2" y="278.81" width="5.7" height="70.79" fill="#ff10ff"/>
<text x="322.2" y="150" text-anchor="end" font-family="Liberation Sans, sans-serif" font-size="14" font-weight="bold" fill="#1414c8">ND</text>
<text x="322.2" y="194.3" text-anchor="end" font-family="Liberation Sans, sans-serif" font-size="14" font-weight="bold" fill="#1a6e22">AC</text>
<text x="322.2" y="249.7" text-anchor="end" font-family="Liberation Sans, sans-serif" font-size="14" font-weight="bold" fill="#dc1428">ATL</text>
<text x="322.2" y="317.7" text-anchor="end" font-family="Liberation Sans, sans-serif" font-size="14" font-weight="bold" fill="#5a2a96">HAM</text>
</svg>
</body></html>
